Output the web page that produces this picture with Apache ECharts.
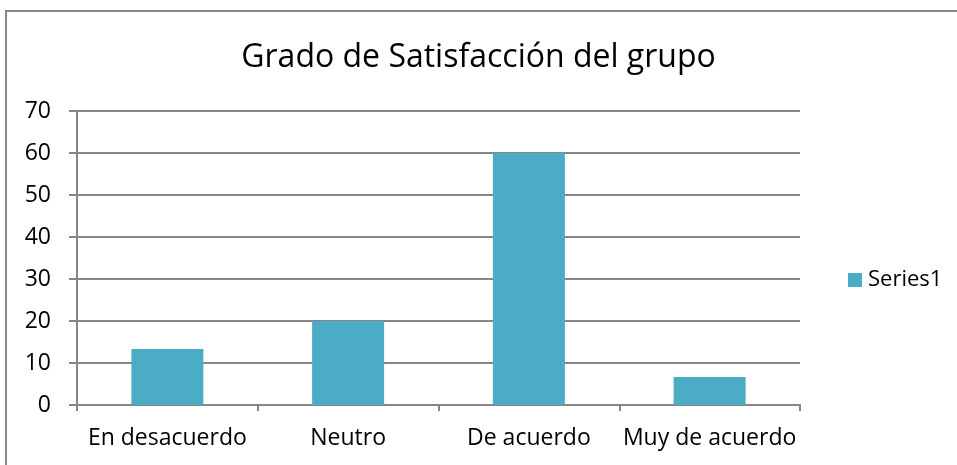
<!DOCTYPE html>
<html>
<head>
<meta charset="utf-8">
<script src="https://cdn.jsdelivr.net/npm/echarts@6/dist/echarts.min.js"></script>
<style>
html, body { margin: 0; padding: 0; background: #fff; }
#chart { width: 957px; height: 465px; }
</style>
</head>
<body>
<div id="chart"></div>
<script>
// datos del grafico
var categorias = ['En desacuerdo', 'Neutro', 'De acuerdo', 'Muy de acuerdo'];
var valores = [13.33, 20, 60, 6.67];
var serieNombre = 'Series1';
var titulo = 'Grado de Satisfacción del grupo';

var fuente = '"Open Sans", "Noto Sans", sans-serif';

var myChart = echarts.init(document.getElementById('chart'));
var option = {
    backgroundColor: '#fff',
    animation: false,
    title: {
        text: titulo,
        left: 'center',
        top: 37,
        textStyle: { fontFamily: fuente, fontSize: 32, fontWeight: 'normal', color: '#000' }
    },
    legend: {
        data: [serieNombre],
        icon: 'rect',
        left: 843,
        top: 264,
        itemWidth: 14,
        itemHeight: 14,
        itemGap: 6,
        textStyle: { fontFamily: fuente, fontSize: 22, color: '#000', padding: [0, 0, 0, 1] }
    },
    grid: {
        left: 77,
        right: 157,
        top: 111,
        bottom: 60
    },
    xAxis: {
        type: 'category',
        data: categorias,
        axisLine: { lineStyle: { color: '#868686', width: 2 } },
        axisTick: { show: true, length: 6, alignWithLabel: false, lineStyle: { color: '#868686', width: 2 } },
        axisLabel: { fontFamily: fuente, fontSize: 23, color: '#000', margin: 22, interval: 0 }
    },
    yAxis: {
        type: 'value',
        min: 0,
        max: 70,
        interval: 10,
        axisLine: { show: true, lineStyle: { color: '#868686', width: 2 } },
        axisTick: { show: true, length: 8, lineStyle: { color: '#868686', width: 2 } },
        axisLabel: { fontFamily: fuente, fontSize: 23, color: '#000', margin: 26 },
        splitLine: { lineStyle: { color: '#868686', width: 2 } }
    },
    series: [
        {
            name: serieNombre,
            type: 'bar',
            barWidth: 72,
            data: valores,
            itemStyle: { color: '#4BACC6' }
        }
    ],
    graphic: [
        {
            type: 'rect',
            shape: { x: 6, y: 11, width: 1000, height: 1000 },
            style: { fill: 'none', stroke: '#888', lineWidth: 2 },
            silent: true
        }
    ]
};
myChart.setOption(option, true);
</script>
</body>
</html>
